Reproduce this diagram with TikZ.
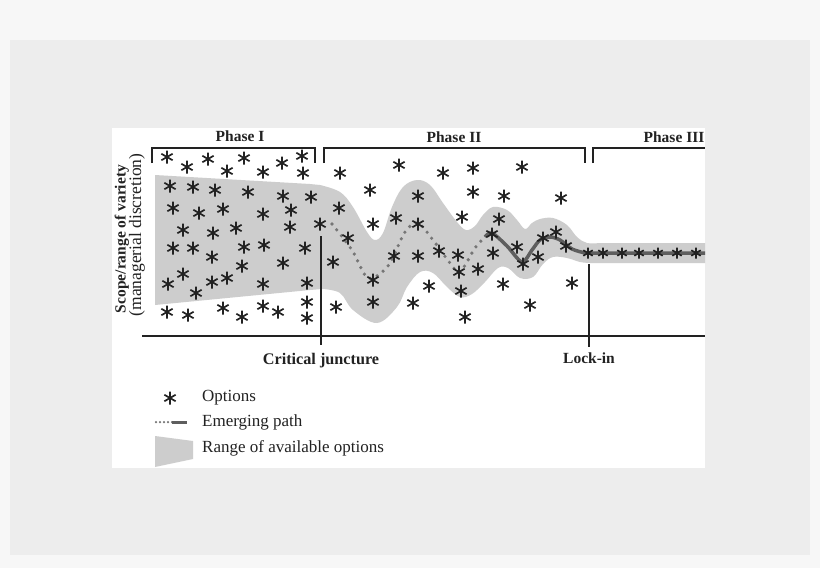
\documentclass[tikz,border=0pt]{standalone}
\usepackage{fontspec}
\setmainfont{Liberation Serif}
\usetikzlibrary{positioning}
\definecolor{bgout}{HTML}{F7F7F7}
\definecolor{bgin}{HTML}{EDEDED}
\definecolor{bandgray}{HTML}{CDCDCD}
\definecolor{pathgray}{HTML}{5E5E5E}
\definecolor{dotgray}{HTML}{767676}
\definecolor{ink}{HTML}{222222}
\begin{document}
\begin{tikzpicture}[x=1pt,y=-1pt,
    option/.style={inner sep=0pt,minimum size=2*#1,path picture={
        \draw[ink,line width=1.7pt] (path picture bounding box.center)
          +(90:#1) -- +(270:#1) +(30:#1) -- +(210:#1) +(150:#1) -- +(330:#1);}},
    option/.default=6.5pt,
    rule/.style={ink,line width=1.1pt},
    phase/.style={inner sep=0pt,text=ink,font=\bfseries\fontsize{15.5}{18}\selectfont},
    legend/.style={inner sep=0pt,text=ink,anchor=west,font=\fontsize{17}{20}\selectfont}]
			% background and panel
			\fill[bgout] (0,0) rectangle (820,568);
			\fill[bgin] (10,40) rectangle (810,555);
			\fill[white] (112,128) rectangle (705,468);
			\useasboundingbox (0,0) rectangle (820,568);
			% range of available options
			\fill[bandgray] (155,175) -- (310,184)
			  -- plot[smooth,tension=0.6] coordinates {(320,185) (340,192) (353,207) (367,232) (375,240) (383,233) (392,207) (403,187) (417,180) (430,185) (443,203) (457,222) (466,230) (475,226) (483,215) (493,207) (507,210) (517,220) (525,229) (532,223) (540,219) (553,218) (567,225) (577,237) (587,243) (600,243)}
			  -- (705,243) -- (705,263)
			  -- plot[smooth,tension=0.6] coordinates {(590,263) (580,262) (567,258) (553,257) (543,264) (533,277) (520,278) (508,268) (498,268) (485,282) (472,294) (460,297) (447,287) (433,273) (420,272) (407,287) (397,307) (377,323) (353,310) (340,293) (322,289)}
			  -- (310,290) -- (155,305) -- cycle;
			% emerging path
			\draw[dotgray,line width=3.6pt,line cap=round,dash pattern=on 0pt off 7.5pt]
			  plot[smooth] coordinates {(332,224) (352,250) (368,278) (388,266) (405,232) (418,223) (433,240) (450,263) (460,272) (475,248) (485,237)};
			\draw[pathgray,line width=3.5pt]
			  plot[smooth] coordinates {(485,237) (492,233) (507,246) (522,262) (532,250) (540,240) (550,237) (560,240) (572,249) (585,253)} -- (705,253);
			% phases
			\node[phase] (ph1) at (240,136) {Phase I};
			\node[phase] (ph2) at (454,137) {Phase II};
			\node[phase] (ph3) at (674,137) {Phase III};
			\draw[rule] (152,163) -- (152,148) -- (315,148) -- (315,163);
			\draw[rule] (324,163) -- (324,148) -- (585,148) -- (585,163);
			\draw[rule] (593,163) -- (593,148) -- (705,148);
			% axis and markers
			\draw[rule] (142,336) -- (705,336);
			\coordinate (cjtop) at (321,236);
			\coordinate (cjbot) at (321,345);
			\coordinate (litop) at (589,264);
			\coordinate (libot) at (589,347);
			\draw[rule] (cjtop) -- (cjbot);
			\draw[rule] (litop) -- (libot);
			\node[phase,font=\bfseries\fontsize{16.2}{18}\selectfont,below=8pt of cjbot] (cj) {Critical juncture};
			\node[phase,below=6pt of libot] (li) {Lock-in};
			\node[phase,rotate=90] (scope) at (122,239) {Scope/range of variety};
			\node[inner sep=0pt,text=ink,rotate=90,font=\fontsize{17.5}{20}\selectfont] (discr) at (137,235) {(managerial discretion)};
			% options
			\foreach \x/\y [count=\i] in {167/157,187/167,208/159,227/171,244/158,263/172,282/163,302/156,303/173,
			    170/186,193/187,215/190,248/192,283/196,311/197,173/208,199/213,223/209,263/214,291/210,
			    183/230,213/233,236/228,290/227,320/224,173/248,193/248,212/257,244/247,264/245,305/248,
			    242/266,283/263,183/274,168/284,212/282,227/278,196/293,263/284,307/283,307/302,
			    167/312,188/315,223/308,242/317,263/306,278/312,307/318}
			  \node[option] (pa\i) at (\x,\y) {};
			\foreach \x/\y [count=\i] in {340/173,399/165,443/173,473/168,522/167,370/190,418/196,473/192,504/196,561/198,
			    339/208,396/218,373/224,462/217,499/219,418/224,348/238,492/234,556/232,
			    439/251,458/255,517/247,543/238,566/246,394/256,418/256,493/253,538/257,
			    333/262,478/269,459/272,523/264,373/280,429/286,461/291,503/284,572/283,
			    336/307,373/302,413/303,530/305,465/317}
			  \node[option] (pb\i) at (\x,\y) {};
			\foreach \x [count=\i] in {588,603,622,639,658,677,696}
			  \node[option=5.5pt] (pc\i) at (\x,253) {};
			% legend
			\node[option] (keyopt) at (170,398) {};
			\node[legend] (txtopt) at (202,398) {Options};
			\draw[dotgray,line width=2.5pt,line cap=round,dash pattern=on 0pt off 4pt] (156,422) -- (172,422);
			\draw[pathgray,line width=3pt] (172,422) -- (187,422);
			\node[legend] (txtpath) at (202,422) {Emerging path};
			\fill[bandgray] (155,436) -- (193,441) -- (193,459) -- (155,467) -- cycle;
			\node[legend] (txtband) at (202,448) {Range of available options};
		\end{tikzpicture}
\end{document}
